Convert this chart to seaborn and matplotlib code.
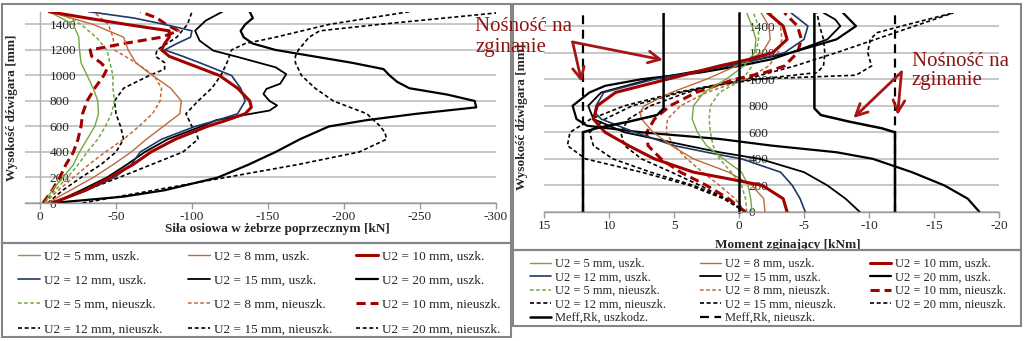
import matplotlib
matplotlib.use("Agg")
import matplotlib.pyplot as plt
import seaborn as sns
from matplotlib.lines import Line2D
from matplotlib.patches import Rectangle

# ------------------------------------------------------------------ data
H16 = list(range(0, 1501, 100))          # girder height [mm]

# Axial force in the transverse rib [kN]
n5u_h = H16
n5u = [-3, -8, -15, -22, -26, -31, -36, -38.5, -38, -35, -31, -27, -26, -25.5, -22, -6]
n8u_h = H16
n8u = [-5, -20, -35, -48, -60, -70, -81, -92, -93, -86, -74, -63, -58, -55, -35, -6]
n10u_h = [0, 100, 200, 300, 400, 500, 600, 650, 700, 750, 800, 900, 1000, 1100, 1150, 1200,
          1250, 1300, 1350, 1400, 1450, 1500]
n10u = [-8, -30, -46, -61, -73, -89, -110, -123, -135, -139, -138, -130, -118, -96, -85, -80,
        -82, -85, -85, -57, -31, -6]
n12u_h = [0, 100, 200, 300, 400, 500, 600, 650, 700, 800, 900, 1000, 1100, 1150, 1200, 1250,
          1300, 1350, 1400, 1450, 1500]
n12u = [-9, -31, -49, -60, -66, -80, -102, -117, -130, -135, -132, -126, -105, -94, -82, -90,
        -99, -100, -82, -62, -32]
n15u_h = [0, 100, 200, 300, 400, 500, 600, 650, 700, 725, 765, 800, 855, 895, 935, 1010, 1064,
          1142, 1195, 1273, 1351, 1430, 1500]
n15u = [-9, -27, -44, -57, -69, -84, -106, -116, -139, -151, -156, -151, -147, -149, -158, -162,
        -155, -131, -114, -105, -102, -109, -120]
n20u_h = [0, 50, 100, 200, 300, 400, 500, 600, 650, 700, 750, 800, 850, 900, 950, 1000, 1050,
          1100, 1150, 1200, 1250, 1300, 1350, 1400, 1450, 1500]
n20u = [-8, -55, -82, -117, -137, -155, -171, -190, -215, -248, -287, -286, -268, -243, -235,
        -230, -226, -205, -180, -155, -140, -134, -132, -135, -140, -138]

n5n_h = H16
n5n = [-3, -10, -18, -25, -31, -38, -43, -47, -49, -48, -48, -46, -44, -37, -27, -12]
n8n_h = H16
n8n = [-3, -12, -22, -32, -43, -55, -65, -74, -79, -80, -75, -63, -49, -48, -45, -35]
n10n_h = [0, 100, 200, 300, 400, 500, 600, 700, 800, 900, 1000, 1050, 1100, 1150, 1200, 1250,
          1300, 1350, 1400, 1450, 1500]
n10n = [-2, -8, -13, -17, -22, -25, -27, -28, -31, -36, -42, -44, -40, -34, -33, -55, -80, -91,
        -83, -77, -66]
n12n_h = [0, 100, 200, 300, 400, 500, 600, 700, 800, 900, 1000, 1050, 1100, 1150, 1200, 1300,
          1400, 1500]
n12n = [-5, -15, -27, -40, -50, -55, -53, -50, -49, -55, -72, -82, -82, -76, -77, -90, -97, -100]
n15n_h = [0, 100, 200, 300, 400, 500, 550, 600, 700, 800, 900, 1000, 1100, 1200, 1250, 1300,
          1400, 1500]
n15n = [-8, -30, -52, -73, -94, -104, -103, -100, -96, -104, -113, -119, -123, -126, -135, -155,
        -190, -243]
n20n_h = [0, 100, 200, 300, 400, 500, 550, 600, 700, 800, 900, 1000, 1100, 1150, 1200, 1300,
          1350, 1400, 1450, 1490]
n20n = [-28, -75, -122, -169, -210, -228, -227, -224, -215, -193, -181, -172, -168, -168, -170,
        -177, -184, -223, -266, -300]

# Bending moment [kNm]
m5u_h = H16
m5u = [-1.0, -0.9, -0.7, -0.2, 1.2, 2.5, 3.2, 3.6, 3.5, 2.7, 1.0, -0.4, -1.2, -1.3, -1.0, -0.6]
m8u_h = [0, 100, 200, 300, 400, 500, 600, 700, 750, 800, 900, 1000, 1100, 1200, 1300, 1400, 1500]
m8u = [-2.0, -1.9, -1.0, 0.8, 3.5, 5.2, 6.6, 7.5, 7.6, 7.3, 5.2, 2.5, 0.2, -1.8, -2.4, -2.3, -1.7]
m10u_h = [0, 100, 200, 250, 300, 400, 500, 600, 700, 800, 900, 1000, 1100, 1150, 1200, 1300,
          1400, 1500]
m10u = [-3.7, -3.4, -1.8, 0.8, 3.5, 6.5, 8.5, 10.3, 11.2, 10.9, 9.5, 5.5, 1.5, -0.8, -2.6, -3.7,
        -3.4, -2.2]
m12u_h = [0, 100, 200, 300, 400, 450, 500, 600, 700, 750, 800, 900, 1000, 1100, 1150, 1200,
          1300, 1400, 1500]
m12u = [-5.1, -4.7, -4.1, -3.2, -0.2, 2.5, 5.0, 8.0, 10.6, 11.1, 11.0, 10.4, 6.5, 0.8, -1.5,
        -3.5, -5.0, -5.3, -4.0]
m15u_h = [0, 100, 200, 300, 400, 450, 500, 600, 700, 800, 900, 1000, 1100, 1150, 1200, 1300,
          1400, 1450, 1500]
m15u = [-9.3, -8.2, -6.8, -5.0, -1.6, 1.5, 4.0, 8.8, 11.2, 11.6, 10.6, 6.8, 1.0, -1.5, -4.0,
        -6.8, -7.8, -7.4, -6.5]
m20u_h = [0, 100, 200, 300, 400, 450, 500, 550, 600, 650, 700, 800, 900, 950, 1000, 1050, 1100,
          1150, 1200, 1300, 1400, 1450, 1500]
m20u = [-18.5, -17.6, -15.8, -13.3, -10.3, -7.5, -2.5, 1.5, 7.5, 11.7, 12.5, 12.8, 11.5, 10.3,
        7.5, 3.0, 0.0, -2.5, -4.0, -7.5, -9.0, -8.5, -8.0]

m5n_h = H16
m5n = [-0.6, -0.5, -0.2, 0.6, 1.5, 2.0, 2.2, 2.3, 2.2, 1.5, -0.3, -1.0, -1.3, -1.5, -1.5, -1.1]
m8n_h = H16
m8n = [-0.5, 0.3, 1.5, 2.8, 4.0, 5.0, 5.6, 5.5, 4.5, 2.5, -0.5, -2.3, -3.0, -3.3, -3.2, -2.4]
m10n_h = [0, 100, 200, 300, 400, 500, 600, 700, 800, 900, 1000, 1050, 1100, 1200, 1300, 1400,
          1500]
m10n = [-0.5, 0.8, 2.5, 4.5, 6.0, 7.0, 7.1, 6.5, 5.3, 3.3, 0.3, -2.0, -3.5, -4.5, -4.8, -4.5,
        -3.5]
m12n_h = [0, 100, 200, 300, 400, 500, 600, 700, 800, 900, 950, 1000, 1050, 1100, 1200, 1300,
          1400, 1500]
m12n = [-0.5, 1.0, 3.0, 5.2, 7.5, 8.8, 9.1, 8.5, 6.8, 4.0, 2.0, -1.5, -6.0, -6.5, -6.6, -6.5,
        -6.2, -6.0]
m15n_h = [0, 100, 200, 300, 400, 500, 600, 700, 800, 900, 950, 1000, 1030, 1100, 1200, 1300,
          1350, 1400, 1450, 1500]
m15n = [-0.5, 1.0, 3.5, 6.8, 9.7, 11.2, 11.5, 10.3, 8.2, 4.5, 2.0, -1.0, -9.0, -10.2, -9.9,
        -10.1, -10.6, -12.5, -14.5, -16.5]
m20n_h = [0, 100, 200, 300, 400, 500, 600, 700, 800, 900, 950, 1000, 1100, 1200, 1300, 1400,
          1500]
m20n = [-0.5, 1.2, 3.8, 7.5, 11.8, 13.2, 13.0, 11.4, 8.8, 4.8, 2.2, -0.5, -4.3, -7.5, -10.5,
        -13.5, -16.5]

# Bending resistance Meff,Rk [kNm] (drawn on both sides of zero)
meff_u_h = [0, 600, 630, 680, 730, 780, 1500]
meff_u = [12, 12, 11, 8.5, 6.3, 5.8, 5.8]
meff_n_h = [0, 1500]
meff_n = [12, 12]

AXIAL_TICKS = [0, -50, -100, -150, -200, -250, -300]
MOMENT_TICKS = [15, 10, 5, 0, -5, -10, -15, -20]
HEIGHT_TICKS = [0, 200, 400, 600, 800, 1000, 1200, 1400]

LABELS = {
    "5u": "U2 = 5 mm, uszk.", "8u": "U2 = 8 mm, uszk.", "10u": "U2 = 10 mm, uszk.",
    "12u": "U2 = 12 mm, uszk.", "15u": "U2 = 15 mm, uszk.", "20u": "U2 = 20 mm, uszk.",
    "5n": "U2 = 5 mm, nieuszk.", "8n": "U2 = 8 mm, nieuszk.", "10n": "U2 = 10 mm, nieuszk.",
    "12n": "U2 = 12 mm, nieuszk.", "15n": "U2 = 15 mm, nieuszk.", "20n": "U2 = 20 mm, nieuszk.",
    "mu": "Meff,Rk, uszkodz.", "mn": "Meff,Rk, nieuszk.",
}

# ------------------------------------------------------------------ styles
GREEN, BROWN, RED, NAVY, BLACK = "#72a83c", "#c0683a", "#a30000", "#1f3864", "#000000"
DOT = (0, (2.4, 1.6))
DASH = (0, (3.0, 1.6))
STYLES = {
    "5u": dict(color=GREEN, lw=1.0, ls="-"),
    "8u": dict(color=BROWN, lw=1.0, ls="-"),
    "10u": dict(color=RED, lw=2.2, ls="-"),
    "12u": dict(color=NAVY, lw=1.2, ls="-"),
    "15u": dict(color=BLACK, lw=1.3, ls="-"),
    "20u": dict(color=BLACK, lw=1.6, ls="-"),
    "5n": dict(color=GREEN, lw=1.1, ls=DOT),
    "8n": dict(color=BROWN, lw=1.1, ls=DOT),
    "10n": dict(color=RED, lw=2.2, ls=DASH),
    "12n": dict(color=BLACK, lw=1.2, ls=DOT),
    "15n": dict(color=BLACK, lw=1.2, ls=DOT),
    "20n": dict(color=BLACK, lw=1.2, ls=DOT),
    "mu": dict(color=BLACK, lw=1.8, ls="-"),
    "mn": dict(color=BLACK, lw=1.6, ls=(0, (4, 2.5))),
}

AXIAL = {
    "5u": (n5u, n5u_h), "8u": (n8u, n8u_h), "10u": (n10u, n10u_h), "12u": (n12u, n12u_h),
    "15u": (n15u, n15u_h), "20u": (n20u, n20u_h), "5n": (n5n, n5n_h), "8n": (n8n, n8n_h),
    "10n": (n10n, n10n_h), "12n": (n12n, n12n_h), "15n": (n15n, n15n_h), "20n": (n20n, n20n_h),
}
MOMENT = {
    "5u": (m5u, m5u_h), "8u": (m8u, m8u_h), "10u": (m10u, m10u_h), "12u": (m12u, m12u_h),
    "15u": (m15u, m15u_h), "20u": (m20u, m20u_h), "5n": (m5n, m5n_h), "8n": (m8n, m8n_h),
    "10n": (m10n, m10n_h), "12n": (m12n, m12n_h), "15n": (m15n, m15n_h), "20n": (m20n, m20n_h),
}
DRAW_ORDER = ["20n", "15n", "12n", "5n", "8n", "10n", "20u", "15u", "12u", "5u", "8u", "10u"]

sns.set_theme(style="white")
plt.rcParams["font.family"] = ["Liberation Serif", "DejaVu Serif"]
plt.rcParams["axes.unicode_minus"] = False

W, H = 1024, 341
fig = plt.figure(figsize=(W / 100, H / 100), dpi=100)
fig.patch.set_facecolor("white")


def fx(x):
    return x / W


def fy(y):
    return 1 - y / H


def axes_px(x0, y0, x1, y1):
    return fig.add_axes([fx(x0), fy(y1), (x1 - x0) / W, (y1 - y0) / H])


def draw(ax, vals, hts, st, **extra):
    sns.lineplot(x=vals, y=hts, ax=ax, sort=False, estimator=None, orient="y",
                 color=st["color"], linewidth=st["lw"], linestyle=st["ls"],
                 legend=False, **extra)


def dress(ax, xlim, xticks, xlabel, xlab_x, xlab_y, ylab_x, ylab_y, spine_c, spine_lw, ypad):
    for s in ("top", "right"):
        ax.spines[s].set_visible(False)
    # moving the spine resets the ticks, so do it before styling them
    ax.spines["left"].set_position(("data", 0))
    ax.spines["left"].set_color(spine_c)
    ax.spines["left"].set_linewidth(spine_lw)
    ax.spines["bottom"].set_color("#9a9a9a")
    ax.spines["bottom"].set_linewidth(1.0)
    ax.set_xlim(*xlim)
    ax.set_ylim(0, 1500)
    ax.set_xticks(xticks)
    ax.set_xticklabels([f"{t:g}" for t in xticks], fontsize=9.5)
    ax.set_yticks(HEIGHT_TICKS)
    ax.set_yticklabels([str(v) for v in HEIGHT_TICKS], fontsize=9.5, ha="left")
    ax.tick_params(axis="y", length=0, pad=ypad)
    ax.tick_params(axis="x", direction="out", length=4, width=1, color="#9a9a9a", pad=2,
                   bottom=True)
    ax.yaxis.grid(True, color="#bdbdbd", linewidth=1.2)
    ax.xaxis.grid(False)
    ax.set_axisbelow(True)
    ax.set_xlabel(xlabel, fontsize=9.5, fontweight="bold")
    ax.xaxis.set_label_coords(xlab_x, xlab_y)
    ax.set_ylabel("Wysokość dźwigara [mm]", fontsize=9.5, fontweight="bold")
    ax.yaxis.set_label_coords(ylab_x, ylab_y)
    ax.patch.set_alpha(0)


# ------------------------------------------------------------------ panel frames
FRAME = "#858585"
for (x0, y0, x1, y1) in [(2, 4, 511, 243), (2, 243, 511, 337),
                         (513, 4, 1021, 250), (513, 250, 1021, 326)]:
    fig.patches.append(Rectangle((fx(x0), fy(y1)), (x1 - x0) / W, (y1 - y0) / H,
                                 transform=fig.transFigure, fill=False,
                                 edgecolor=FRAME, linewidth=1.5))

# ------------------------------------------------------------------ axial force
axL = axes_px(24.8, 11.7, 496, 203)
for k in DRAW_ORDER:
    v, h = AXIAL[k]
    draw(axL, v, h, STYLES[k])
dress(axL, (10, -300), AXIAL_TICKS, "Siła osiowa w żebrze poprzecznym [kN]",
      (277 - 24.8) / 471.2, -0.105, -0.014, 0.5, "#b0b0b0", 1.0, -7)

# ------------------------------------------------------------------ bending moment
axR = axes_px(544, 12.8, 999, 212)
for k in DRAW_ORDER:
    v, h = MOMENT[k]
    draw(axR, v, h, STYLES[k])
for sign in (1, -1):
    draw(axR, [sign * m for m in meff_n], meff_n_h, STYLES["mn"])
    draw(axR, [sign * m for m in meff_u], meff_u_h, STYLES["mu"])
dress(axR, (15, -20), MOMENT_TICKS, "Moment zginający [kNm]",
      (788 - 544) / 455, -0.135, -0.036, 0.48, "#000000", 1.8, -7)

# annotations: bending resistance
RED_TXT = "#8e1414"
fig.text(fx(475), fy(37), "Nośność na\nzginanie", color=RED_TXT, fontsize=15,
         ha="left", va="center", linespacing=1.2)
fig.text(fx(912), fy(71), "Nośność na\nzginanie", color=RED_TXT, fontsize=15,
         ha="left", va="center", linespacing=1.05)
arrow = dict(arrowstyle="->,head_length=0.7,head_width=0.35", color="#a51616", lw=2.0,
             shrinkA=0, shrinkB=0)
for origin, target in [((12.8, 1280), (5.85, 1145)), ((12.8, 1280), (12.1, 979)),
                       ((-12.5, 1054), (-8.8, 708)), ((-12.5, 1054), (-12.2, 730))]:
    axR.annotate("", xy=target, xytext=origin, arrowprops=arrow, annotation_clip=False)


# ------------------------------------------------------------------ legends
def handle(k):
    st = STYLES[k]
    return Line2D([], [], color=st["color"], linewidth=st["lw"], linestyle=st["ls"])


def legend_column(keys, x, y, fontsize, spacing):
    return fig.legend([handle(k) for k in keys], [LABELS[k] for k in keys],
                      loc="upper left", bbox_to_anchor=(fx(x), fy(y)),
                      bbox_transform=fig.transFigure, frameon=False, borderpad=0,
                      borderaxespad=0, handlelength=1.7, handletextpad=0.3,
                      labelspacing=spacing, fontsize=fontsize)


legend_column(["5u", "12u", "5n", "12n"], 18, 250, 9.5, 0.92)
legend_column(["8u", "15u", "8n", "15n"], 188, 250, 9.5, 0.92)
legend_column(["10u", "20u", "10n", "20n"], 356, 250, 9.5, 0.92)
legend_column(["5u", "12u", "5n", "12n", "mu"], 530, 258, 9.0, 0.12)
legend_column(["8u", "15u", "8n", "15n", "mn"], 700, 258, 9.0, 0.12)
legend_column(["10u", "20u", "10n", "20n"], 870, 258, 9.0, 0.12)

fig.savefig("out.png", dpi=100, facecolor="white")
